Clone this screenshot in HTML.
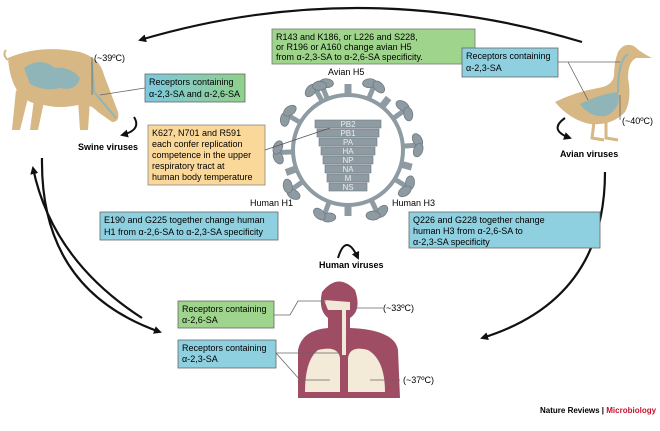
<!DOCTYPE html>
<html><head><meta charset="utf-8"><style>
body{margin:0;background:#fff;}
svg text{font-family:"Liberation Sans",sans-serif;}
</style></head><body>
<svg width="660" height="426" viewBox="0 0 660 426" xmlns="http://www.w3.org/2000/svg">
<defs>
<marker id="ah" markerWidth="8" markerHeight="8" refX="6" refY="4" orient="auto" markerUnits="userSpaceOnUse"><path d="M0,0 L8,4 L0,8 Z" fill="#111"/></marker>
<linearGradient id="bg" x1="0" x2="1"><stop offset="0" stop-color="#7ec8de"/><stop offset="1" stop-color="#8fd08a"/></linearGradient>
<g id="sp"><rect x="-2.5" y="-70" width="5" height="16" fill="#8f9ba3"/><ellipse cx="-5" cy="-70" rx="7" ry="4.5" transform="rotate(-25,-5,-70)" fill="#8f9ba3" stroke="#6f7a82" stroke-width="0.8"/><ellipse cx="5" cy="-70" rx="7" ry="4.5" transform="rotate(25,5,-70)" fill="#8f9ba3" stroke="#6f7a82" stroke-width="0.8"/></g>
</defs>
<!-- big arcs -->
<path d="M582,42 Q360,-25 140,40" fill="none" stroke="#111" stroke-width="2.2" marker-end="url(#ah)"/>
<path d="M42,158 Q40,290 160,332" fill="none" stroke="#111" stroke-width="2.2" marker-end="url(#ah)"/>
<path d="M142,318 Q52,260 33,168" fill="none" stroke="#111" stroke-width="2.2" marker-end="url(#ah)"/>
<path d="M605,172 Q605,300 482,338" fill="none" stroke="#111" stroke-width="2.2" marker-end="url(#ah)"/>

<!-- pig -->
<g fill="#d7b784">
<path d="M8,58 Q40,44 80,52 Q100,58 104,75 L118,112 Q120,122 112,122 L98,112 Q90,104 82,104 Q60,110 40,104 Q30,104 22,96 Q10,85 8,58Z"/>
<path d="M16,90 L12,130 L20,130 L28,98Z"/><path d="M34,100 L30,130 L38,130 L44,102Z"/>
<path d="M78,100 L80,130 L88,130 L90,100Z"/>
<path d="M8,60 Q2,55 6,50" fill="none" stroke="#d7b784" stroke-width="2"/>
</g>
<path d="M24,68 Q40,56 55,68 Q70,66 80,78 Q76,92 60,88 Q45,92 30,84Z" fill="#8fb5b8"/>
<path d="M92,62 L94,92 L116,118" stroke="#8fb5b8" stroke-width="2" fill="none"/>
<line x1="92" y1="57" x2="92" y2="95" stroke="#666" stroke-width="0.8"/>
<text x="94" y="61" font-size="9">(~39ºC)</text>
<path d="M134,117 Q142,130 122,135" fill="none" stroke="#111" stroke-width="2" marker-end="url(#ah)"/>
<text x="78" y="150" font-size="9" font-weight="bold">Swine viruses</text>
<line x1="100" y1="95" x2="145" y2="88" stroke="#666" stroke-width="0.8"/>
<rect x="145" y="74" width="100" height="28" fill="url(#bg)" stroke="#666" stroke-width="0.8"/>
<text x="149" y="85" font-size="9">Receptors containing</text>
<text x="149" y="97" font-size="9">α-2,3-SA and α-2,6-SA</text>

<rect x="148" y="125" width="117" height="60" fill="#fad89a" stroke="#888" stroke-width="0.8"/>
<text font-size="9"><tspan x="152" y="136">K627, N701 and R591</tspan><tspan x="152" y="147">each confer replication</tspan><tspan x="152" y="158">competence in the upper</tspan><tspan x="152" y="169">respiratory tract at</tspan><tspan x="152" y="180">human body temperature</tspan></text>

<!-- top green -->
<rect x="272" y="29" width="203" height="35" fill="#9fd48c" stroke="#777" stroke-width="0.8"/>
<text font-size="9"><tspan x="276" y="40">R143 and K186, or L226 and S228,</tspan><tspan x="276" y="50">or R196 or A160 change avian H5</tspan><tspan x="276" y="60">from α-2,3-SA to α-2,6-SA specificity.</tspan></text>
<text x="328" y="75" font-size="9">Avian H5</text>

<!-- virus -->
<g transform="translate(348,150)">
<use href="#sp" transform="rotate(-22)"/><use href="#sp" transform="rotate(22)"/><use href="#sp" transform="rotate(55)"/><use href="#sp" transform="rotate(86)"/><use href="#sp" transform="rotate(122)"/><use href="#sp" transform="rotate(155)"/><use href="#sp" transform="rotate(200)"/><use href="#sp" transform="rotate(235)"/><use href="#sp" transform="rotate(268)"/><use href="#sp" transform="rotate(300)"/><use href="#sp" transform="rotate(332)"/>
<g fill="#8f9ba3"><rect x="-3.5" y="-66" width="7" height="12"/><rect x="-3.5" y="-66" width="7" height="12" transform="rotate(105)"/><rect x="-3.5" y="-66" width="7" height="12" transform="rotate(180)"/><rect x="-3.5" y="-66" width="7" height="12" transform="rotate(250)"/><rect x="-3.5" y="-66" width="7" height="12" transform="rotate(38)"/></g>
<circle r="55" fill="#fff" stroke="#8f9ba3" stroke-width="4"/>
</g>
<g fill="#8f9ba3" stroke="#6f7a82" stroke-width="0.6">
<rect x="315" y="120" width="66" height="8"/><rect x="317" y="129" width="62" height="8"/><rect x="319" y="138" width="58" height="8"/><rect x="321" y="147" width="54" height="8"/><rect x="323" y="156" width="50" height="8"/><rect x="325" y="165" width="46" height="8"/><rect x="327" y="174" width="42" height="8"/><rect x="329" y="183" width="38" height="8"/>
</g>
<g fill="#e8edf0" font-size="8" text-anchor="middle">
<text x="348" y="127">PB2</text><text x="348" y="136">PB1</text><text x="348" y="145">PA</text><text x="348" y="154">HA</text><text x="348" y="163">NP</text><text x="348" y="172">NA</text><text x="348" y="181">M</text><text x="348" y="190">NS</text>
</g>
<line x1="265" y1="150" x2="330" y2="128" stroke="#555" stroke-width="0.8"/>

<text x="250" y="206" font-size="9">Human H1</text>
<text x="392" y="206" font-size="9">Human H3</text>
<rect x="100" y="212" width="178" height="28" fill="#8fd0e0" stroke="#666" stroke-width="0.8"/>
<text font-size="9"><tspan x="104" y="223">E190 and G225 together change human</tspan><tspan x="104" y="235">H1 from α-2,6-SA to α-2,3-SA specificity</tspan></text>
<rect x="409" y="212" width="191" height="36" fill="#8fd0e0" stroke="#666" stroke-width="0.8"/>
<text font-size="9"><tspan x="413" y="223">Q226 and G228 together change</tspan><tspan x="413" y="234">human H3 from α-2,6-SA to</tspan><tspan x="413" y="245">α-2,3-SA specificity</tspan></text>

<path d="M338,258 Q346,232 358,258" fill="none" stroke="#111" stroke-width="2" marker-end="url(#ah)"/>
<text x="319" y="268" font-size="9" font-weight="bold">Human viruses</text>

<!-- human -->
<path d="M322,292 Q338,272 355,290 Q362,310 350,318 L350,328 Q395,330 398,350 L400,398 L298,398 L298,350 Q302,330 328,328 L328,318 Q318,310 322,292Z" fill="#9e4d65"/>
<path d="M324,300 L350,302 L350,310 L328,310Z" fill="#f2e8d8"/>
<path d="M342,305 L346,305 L346,355 L342,355Z" fill="#f2e8d8"/>
<path d="M318,350 Q338,345 340,358 L340,392 L305,392 Q305,360 318,350Z" fill="#f3ead8"/>
<path d="M368,350 Q350,345 348,358 L348,392 L385,392 Q385,360 368,350Z" fill="#f3ead8"/>
<g stroke="#666" stroke-width="0.8" fill="none">
<path d="M274,315 L290,315 L298,301 L326,301"/><path d="M350,308 L383,308"/>
<path d="M276,353 L340,353"/><path d="M276,353 L300,380 L330,380"/><path d="M370,380 L400,380"/>
</g>
<text x="383" y="311" font-size="9">(~33ºC)</text>
<text x="403" y="383" font-size="9">(~37ºC)</text>
<rect x="178" y="301" width="96" height="27" fill="#9fd48c" stroke="#666" stroke-width="0.8"/>
<text font-size="9"><tspan x="182" y="312">Receptors containing</tspan><tspan x="182" y="323">α-2,6-SA</tspan></text>
<rect x="178" y="340" width="98" height="28" fill="#8fd0e0" stroke="#666" stroke-width="0.8"/>
<text font-size="9"><tspan x="182" y="351">Receptors containing</tspan><tspan x="182" y="362">α-2,3-SA</tspan></text>

<!-- duck -->
<g fill="#d7b784">
<path d="M555,102 Q575,92 598,88 Q612,86 614,76 Q614,62 618,52 Q624,42 634,46 Q640,52 652,58 L636,58 Q628,62 628,78 Q632,100 625,112 Q612,126 590,124 Q570,120 555,102Z"/>
</g>
<path d="M594,122 L592,138 L604,140 M606,122 L606,138 L618,140" stroke="#d7b784" stroke-width="3" fill="none"/>
<path d="M580,104 Q600,94 618,92 Q622,108 606,116 Q590,118 580,104Z" fill="#8fb5b8"/>
<path d="M628,54 Q618,60 618,92" stroke="#8fb5b8" stroke-width="2" fill="none"/>
<line x1="558" y1="62" x2="620" y2="62" stroke="#666" stroke-width="0.8"/>
<line x1="568" y1="62" x2="588" y2="100" stroke="#666" stroke-width="0.8"/>
<line x1="620" y1="95" x2="620" y2="120" stroke="#666" stroke-width="0.8"/>
<text x="622" y="124" font-size="9">(~40ºC)</text>
<rect x="462" y="48" width="96" height="29" fill="#8fd0e0" stroke="#666" stroke-width="0.8"/>
<text font-size="9"><tspan x="466" y="59">Receptors containing</tspan><tspan x="466" y="71">α-2,3-SA</tspan></text>
<path d="M565,118 Q548,130 570,138" fill="none" stroke="#111" stroke-width="2" marker-end="url(#ah)"/>
<text x="560" y="157" font-size="9" font-weight="bold">Avian viruses</text>

<text x="540" y="413" font-size="8" font-weight="bold">Nature Reviews | <tspan fill="#c8102e">Microbiology</tspan></text>
</svg>
</body></html>
